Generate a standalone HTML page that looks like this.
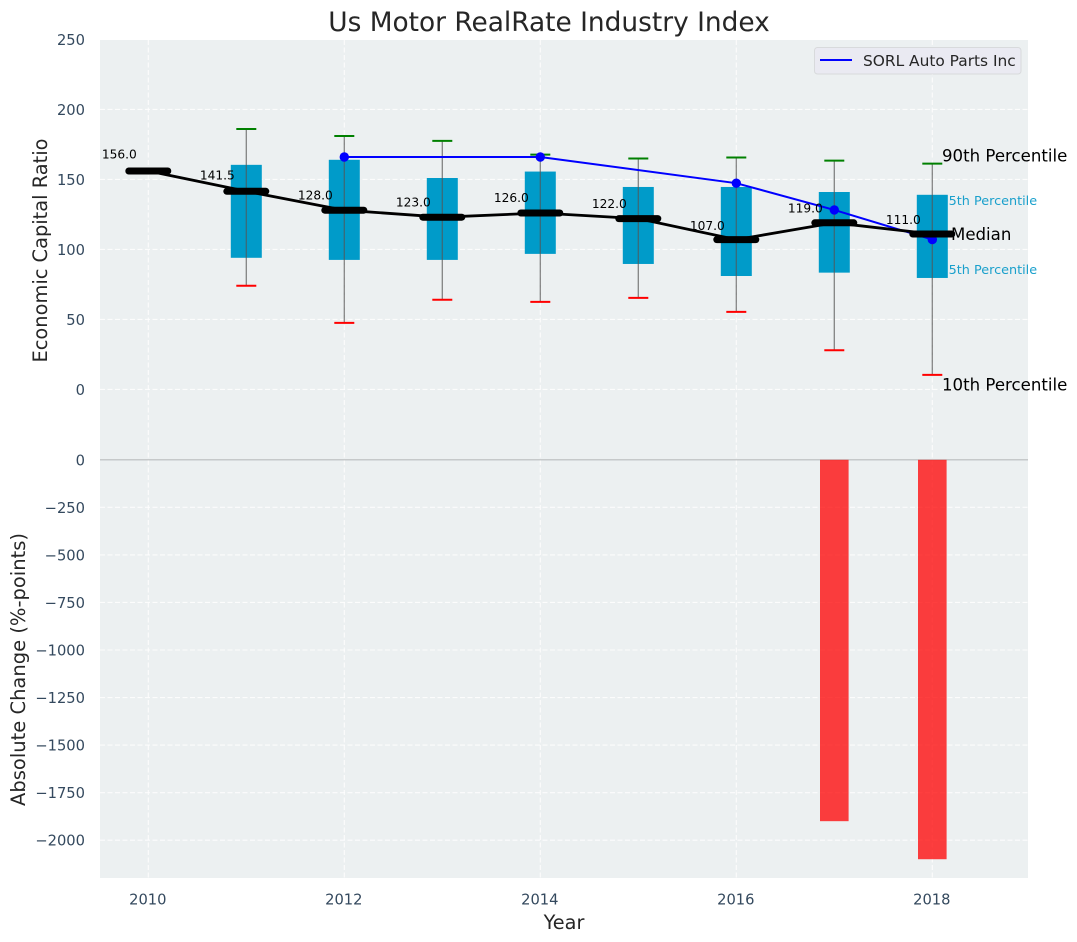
<!DOCTYPE html>
<html lang="en">
<head>
<meta charset="utf-8">
<title>Us Motor RealRate Industry Index</title>
<style>
html,body{margin:0;padding:0;background:#fff;}
svg{display:block;font-family:"DejaVu Sans","Liberation Sans",sans-serif;}
</style>
</head>
<body>
<svg id="chart" xmlns="http://www.w3.org/2000/svg" width="1077" height="942" viewBox="0 0 1077 942"></svg>
<script>
const years = [2010, 2011, 2012, 2013, 2014, 2015, 2016, 2017, 2018];
const medians = [156, 141.5, 128, 123, 126, 122, 107, 119, 111];
const medianLabels = ['156.0', '141.5', '128.0', '123.0', '126.0', '122.0', '107.0', '119.0', '111.0'];
const boxYears = [2011, 2012, 2013, 2014, 2015, 2016, 2017, 2018];
const p90 = [186, 181, 177.5, 167.7, 164.9, 165.6, 163.4, 161.3];
const p75 = [160.4, 164, 151, 155.6, 144.6, 144.6, 141, 139];
const p25 = [94, 92.5, 92.5, 96.8, 89.6, 81, 83.4, 79.6];
const p10 = [74, 47.5, 64, 62.5, 65.4, 55.4, 28, 10.4];
const companyYears = [2012, 2014, 2016, 2017, 2018];
const companyValues = [166, 166, 147.3, 128.2, 107];
const barYears = [2017, 2018];
const barValues = [-1900, -2100];
const xTicks = [2010, 2012, 2014, 2016, 2018];
const topTicks = [250, 200, 150, 100, 50, 0];
const bottomTicks = [0, -250, -500, -750, -1000, -1250, -1500, -1750, -2000];

const svg = document.getElementById('chart');
const NS = 'http://www.w3.org/2000/svg';
const X = v => 148.3 + (v - 2010) * 98;
const Y = v => 389.4 - v * 1.4;
const B = v => 459.8 - v * 0.1902;
const LABEL_Y = v => 158.3 + (156 - v) * 1.463;
const INK = '#262626', TICK = '#34495e';

function add(tag, attrs, text) {
  const el = document.createElementNS(NS, tag);
  for (const k in attrs) el.setAttribute(k, attrs[k]);
  if (text !== undefined) el.textContent = text;
  svg.appendChild(el);
  return el;
}
function fmt(v) { return String(v).replace('-', '\u2212'); }

let el;
el = add('rect', {x: 100, y: 40, width: 928, height: 420, fill: '#ecf0f1'});


el = add('rect', {x: 100, y: 460, width: 928, height: 418, fill: '#ecf0f1'});



xTicks.forEach(t => {
  el = add('line', {x1: X(t), x2: X(t), y1: 40, y2: 878, stroke: '#fff', 'stroke-width': 1.1, 'stroke-dasharray': '5 2.5', opacity: 0.85});
  
  
  el = add('text', {x: X(t) - 0.5, y: 904.5, 'text-anchor': 'middle', 'font-size': 14.7, fill: TICK}, String(t));
  
  
});
topTicks.forEach(t => {
  if (t !== 250) {
    el = add('line', {x1: 100, x2: 1028, y1: Y(t), y2: Y(t), stroke: '#fff', 'stroke-width': 1.1, 'stroke-dasharray': '5 2.5', opacity: 0.85});
    
    
  }
  el = add('text', {x: 85, y: Y(t) + 5.5, 'text-anchor': 'end', 'font-size': 14.7, fill: TICK}, fmt(t));
  
  
});
bottomTicks.forEach(t => {
  if (t !== 0) {
    el = add('line', {x1: 100, x2: 1028, y1: B(t), y2: B(t), stroke: '#fff', 'stroke-width': 1.1, 'stroke-dasharray': '5 2.5', opacity: 0.85});
    
    
  }
  el = add('text', {x: 85, y: B(t) + 5.5, 'text-anchor': 'end', 'font-size': 14.7, fill: TICK}, fmt(t));
  
  
});

el = add('line', {x1: 100, x2: 1028, y1: B(0), y2: B(0), stroke: '#b9bcbd', 'stroke-width': 1.2});



barYears.forEach((yr, i) => {
  el = add('rect', {x: X(yr) - 14.3, y: B(0), width: 28.6, height: B(barValues[i]) - B(0), fill: '#ff0000', 'fill-opacity': 0.75});
  
  
});

el = add('text', {x: 940.5, y: 205, 'font-size': 12.8, fill: '#1aa0cc'}, '75th Percentile');


el = add('text', {x: 940.5, y: 274, 'font-size': 12.8, fill: '#1aa0cc'}, '25th Percentile');



boxYears.forEach((yr, i) => {
  const cx = X(yr);
  el = add('rect', {x: cx - 15.5, y: Y(p75[i]), width: 31, height: Y(p25[i]) - Y(p75[i]), fill: '#009bc9'});
  
  
  el = add('line', {x1: cx, x2: cx, y1: Y(p90[i]), y2: Y(p10[i]), stroke: '#555', 'stroke-width': 1.3, opacity: 0.7});
  
  
  el = add('line', {x1: cx - 10, x2: cx + 10, y1: Y(p90[i]), y2: Y(p90[i]), stroke: '#008000', 'stroke-width': 2});
  
  
  el = add('line', {x1: cx - 10, x2: cx + 10, y1: Y(p10[i]), y2: Y(p10[i]), stroke: '#ff0000', 'stroke-width': 2});
  
  
});

el = add('polyline', {points: companyYears.map((yr, i) => X(yr) + ',' + Y(companyValues[i])).join(' '), fill: 'none', stroke: '#0000ff', 'stroke-width': 2});


companyYears.forEach((yr, i) => {
  el = add('circle', {cx: X(yr), cy: Y(companyValues[i]), r: 4.7, fill: '#0000ff'});
  
  
});

el = add('polyline', {points: years.map((yr, i) => X(yr) + ',' + Y(medians[i])).join(' '), fill: 'none', stroke: '#000', 'stroke-width': 2.8});


years.forEach((yr, i) => {
  el = add('line', {x1: X(yr) - 19.5, x2: X(yr) + 19.5, y1: Y(medians[i]), y2: Y(medians[i]), stroke: '#000', 'stroke-width': 7, 'stroke-linecap': 'round'});
  
  
  el = add('text', {x: X(yr) - 29, y: LABEL_Y(medians[i]), 'text-anchor': 'middle', 'font-size': 12.2, fill: '#000'}, medianLabels[i]);
  
  
});

el = add('text', {x: 942, y: 161.5, 'font-size': 16.6, fill: '#000'}, '90th Percentile');


el = add('text', {x: 951, y: 240, 'font-size': 16.6, fill: '#000'}, 'Median');


el = add('text', {x: 942, y: 390.5, 'font-size': 16.6, fill: '#000'}, '10th Percentile');



el = add('rect', {x: 814.5, y: 47.5, width: 206.5, height: 26.5, rx: 3, fill: '#eaeaf2', stroke: '#d8dadc', 'stroke-width': 1});


el = add('line', {x1: 820, x2: 852, y1: 60, y2: 60, stroke: '#0000ff', 'stroke-width': 2});


el = add('text', {x: 863, y: 66, 'font-size': 15.4, fill: INK}, 'SORL Auto Parts Inc');



el = add('text', {x: 549, y: 31, 'text-anchor': 'middle', 'font-size': 26.4, fill: INK}, 'Us Motor RealRate Industry Index');


el = add('text', {x: 564, y: 929, 'text-anchor': 'middle', 'font-size': 19.3, fill: INK}, 'Year');


el = add('text', {transform: 'translate(47,250.5) rotate(-90)', 'text-anchor': 'middle', 'font-size': 19.4, fill: INK}, 'Economic Capital Ratio');


el = add('text', {transform: 'translate(25,669.5) rotate(-90)', 'text-anchor': 'middle', 'font-size': 19.5, fill: INK}, 'Absolute Change (%-points)');


</script>
</body>
</html>
